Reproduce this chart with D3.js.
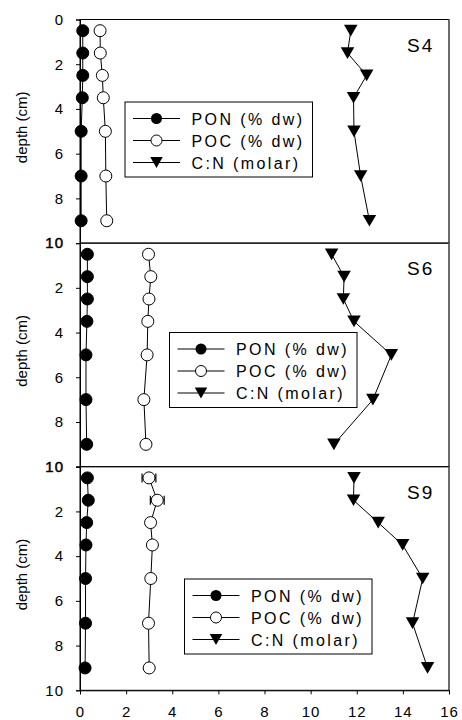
<!DOCTYPE html>
<html><head><meta charset="utf-8">
<script src="https://cdn.jsdelivr.net/npm/d3@7"></script>
<style>
html,body{margin:0;padding:0;background:#fff;}
svg{display:block;font-family:Arial,"Liberation Sans",sans-serif;}
</style></head>
<body><svg id="c" width="462" height="720"></svg>
<script>
// ---- data ----
const depths = [0.5, 1.5, 2.5, 3.5, 5, 7, 9];
const stations = ["S4", "S6", "S9"];
const ponS4 = [0.12, 0.12, 0.12, 0.1, 0.05, 0.05, 0.05];
const pocS4 = [0.87, 0.88, 0.97, 1.01, 1.1, 1.12, 1.16];
const cnS4  = [11.74, 11.6, 12.43, 11.86, 11.88, 12.17, 12.55];
const ponS6 = [0.32, 0.32, 0.32, 0.3, 0.26, 0.26, 0.29];
const pocS6 = [2.97, 3.07, 2.99, 2.94, 2.91, 2.77, 2.86];
const cnS6  = [10.91, 11.45, 11.42, 11.88, 13.5, 12.7, 11.01];
const ponS9 = [0.32, 0.36, 0.29, 0.26, 0.24, 0.24, 0.22];
const pocS9 = [2.99, 3.35, 3.06, 3.14, 3.07, 2.97, 3.0];
const pocErrS9 = [0.3, 0.3, 0, 0, 0, 0, 0];
const cnS9  = [11.88, 11.86, 12.93, 13.99, 14.86, 14.42, 15.07];
const xTicks = [0, 2, 4, 6, 8, 10, 12, 14, 16];
const yTicks = [0, 2, 4, 6, 8, 10];
const legendLabels = ["PON (% dw)", "POC (% dw)", "C:N (molar)"];
const yLabel = "depth (cm)";

const panels = [
  {name: stations[0], pon: ponS4, poc: pocS4, cn: cnS4, err: null, leg: [125, 102]},
  {name: stations[1], pon: ponS6, poc: pocS6, cn: cnS6, err: null, leg: [169.5, 332.5]},
  {name: stations[2], pon: ponS9, poc: pocS9, cn: cnS9, err: pocErrS9, leg: [184.5, 579]}
];

// ---- layout ----
const svg = d3.select("#c");
const L = 80, R = 449, T = 19.5, H = 223.6;
const x = d3.scaleLinear().domain([0, 16]).range([L, R]);

function triPath(g, cx, cy, s) {
  g.append("path")
    .attr("d", `M${cx - s*0.52},${cy - s*0.45}L${cx + s*0.52},${cy - s*0.45}L${cx},${cy + s*0.45}Z`)
    .attr("fill", "#000");
}

panels.forEach((p, i) => {
  const top = T + i * H;
  const y = d3.scaleLinear().domain([0, 10]).range([top, top + H]);
  const g = svg.append("g");

  // frame
  g.append("rect").attr("x", L).attr("y", top).attr("width", R - L).attr("height", H)
    .attr("fill", "none").attr("stroke", "#000").attr("stroke-width", 1);
  g.append("line").attr("x1", R).attr("x2", R).attr("y1", top).attr("y2", top + H)
    .attr("stroke", "#666").attr("stroke-width", 1.6);

  // y axis (the 0 of lower panels is printed over by the 10 of the panel above)
  const ya = d3.axisLeft(y).tickValues(yTicks).tickSize(4).tickPadding(12)
    .tickFormat(d => (i > 0 && d === 0) ? "" : d3.format("d")(d));
  const yg = g.append("g").attr("transform", `translate(${L},0)`).call(ya);
  yg.select(".domain").attr("stroke", "#000");
  yg.selectAll("text").attr("font-size", 15).attr("fill", "#000")
    .attr("font-family", "Arial, 'Liberation Sans', sans-serif").attr("letter-spacing", 1)
    .attr("stroke", d => (d === 10 && i < panels.length - 1) ? "#000" : "none")
    .attr("stroke-width", 0.5);

  // y label
  g.append("text").attr("transform", `translate(27,${top + H/2 - 4}) rotate(-90)`)
    .attr("text-anchor", "middle").attr("font-size", 15).text(yLabel);

  // bottom axis on last panel
  if (i === panels.length - 1) {
    const xa = d3.axisBottom(x).tickValues(xTicks).tickSize(4).tickPadding(12).tickFormat(d3.format("d"));
    const xg = g.append("g").attr("transform", `translate(0,${top + H})`).call(xa);
    xg.selectAll("text").attr("font-size", 15).attr("fill", "#000")
      .attr("font-family", "Arial, 'Liberation Sans', sans-serif").attr("letter-spacing", 1);
  }

  const line = (vals) => d3.line().x((d, k) => x(vals[k])).y((d) => y(d))(depths);

  g.append("path").attr("d", line(p.pon)).attr("fill", "none").attr("stroke", "#000").attr("stroke-width", 1);
  g.append("path").attr("d", line(p.poc)).attr("fill", "none").attr("stroke", "#000").attr("stroke-width", 1);
  g.append("path").attr("d", line(p.cn)).attr("fill", "none").attr("stroke", "#000").attr("stroke-width", 1);

  // POC error bars
  if (p.err) {
    depths.forEach((d, k) => {
      const e = p.err[k];
      if (!e) return;
      const x0 = x(p.poc[k] - e), x1 = x(p.poc[k] + e), cy = y(d);
      g.append("line").attr("x1", x0).attr("x2", x1).attr("y1", cy).attr("y2", cy).attr("stroke", "#000");
      [x0, x1].forEach(xx => g.append("line").attr("x1", xx).attr("x2", xx)
        .attr("y1", cy - 4.5).attr("y2", cy + 4.5).attr("stroke", "#000").attr("stroke-width", 1.2));
    });
  }

  // markers
  depths.forEach((d, k) => {
    g.append("circle").attr("cx", x(p.pon[k])).attr("cy", y(d)).attr("r", 6)
      .attr("fill", "#000").attr("stroke", "#000");
  });
  depths.forEach((d, k) => {
    g.append("circle").attr("cx", x(p.poc[k])).attr("cy", y(d)).attr("r", 6)
      .attr("fill", "#fff").attr("stroke", "#000").attr("stroke-width", 1);
  });
  depths.forEach((d, k) => triPath(g, x(p.cn[k]), y(d), 13));

  // panel label
  g.append("text").attr("x", 407).attr("y", top + 32).attr("font-size", 19)
    .attr("letter-spacing", 2).text(p.name);

  // legend
  const [lx, ly] = p.leg;
  const lg = g.append("g").attr("transform", `translate(${lx},${ly})`);
  lg.append("rect").attr("width", 187.5).attr("height", 75).attr("fill", "#fff")
    .attr("stroke", "#000").attr("stroke-width", 1);
  legendLabels.forEach((lab, k) => {
    const cy = 16.5 + k * 22;
    lg.append("line").attr("x1", 8).attr("x2", 55).attr("y1", cy).attr("y2", cy).attr("stroke", "#000");
    if (k === 0) lg.append("circle").attr("cx", 31.5).attr("cy", cy).attr("r", 5.5).attr("fill", "#000");
    if (k === 1) lg.append("circle").attr("cx", 31.5).attr("cy", cy).attr("r", 5.5).attr("fill", "#fff").attr("stroke", "#000");
    if (k === 2) triPath(lg, 31.5, cy, 12);
    lg.append("text").attr("x", 66.5).attr("y", cy + 6).attr("font-size", 16)
      .attr("letter-spacing", 2.4).text(lab);
  });
});
</script></body></html>
